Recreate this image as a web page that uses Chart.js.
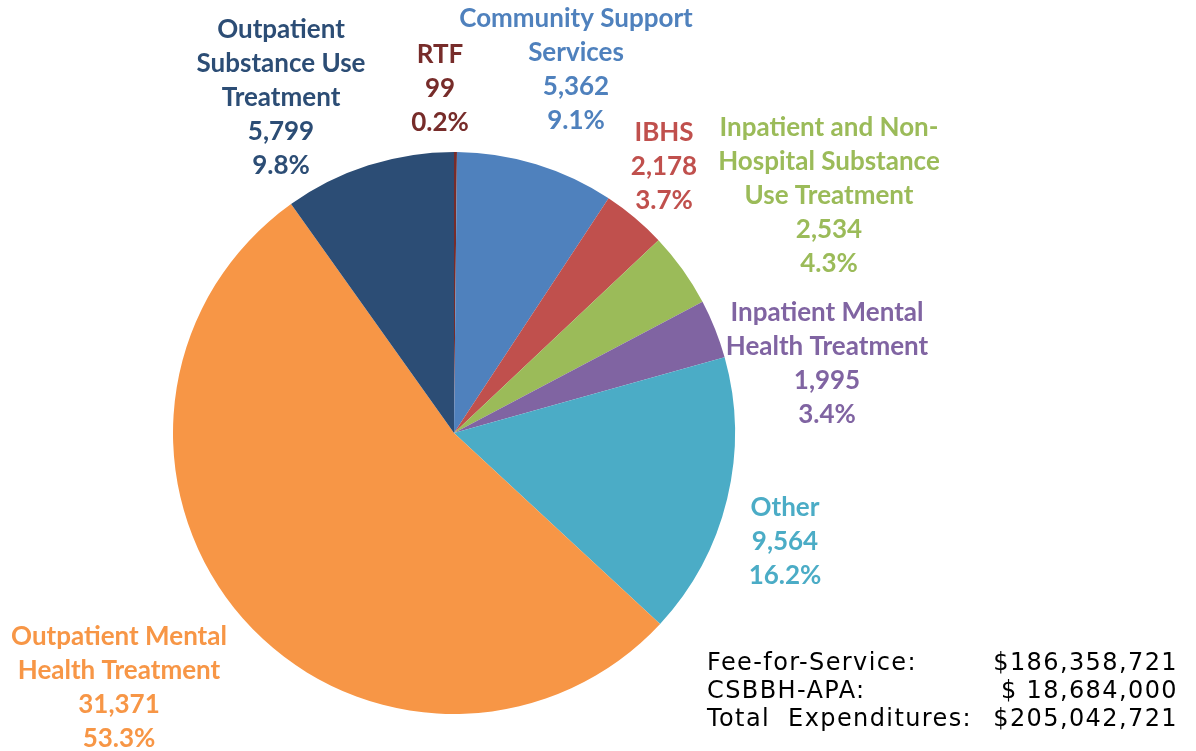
<!DOCTYPE html>
<html>
<head>
<meta charset="utf-8">
<script src="https://cdn.jsdelivr.net/npm/chart.js@4"></script>
<style>
html,body{margin:0;padding:0;background:#fff;}
#wrap{position:relative;width:1196px;height:751px;}
</style>
</head>
<body>
<div id="wrap"><canvas id="c" width="1196" height="751"></canvas></div>
<script>
// ---- data ----
const categories = ["RTF", "Community Support Services", "IBHS", "Inpatient and Non-Hospital Substance Use Treatment", "Inpatient Mental Health Treatment", "Other", "Outpatient Mental Health Treatment", "Outpatient Substance Use Treatment"];
const labelLines = [["RTF"], ["Community Support", "Services"], ["IBHS"], ["Inpatient and Non-", "Hospital Substance", "Use Treatment"], ["Inpatient Mental", "Health Treatment"], ["Other"], ["Outpatient Mental", "Health Treatment"], ["Outpatient", "Substance Use", "Treatment"]];
const values = [99, 5362, 2178, 2534, 1995, 9564, 31371, 5799];
const percents = ["0.2%", "9.1%", "3.7%", "4.3%", "3.4%", "16.2%", "53.3%", "9.8%"];
const expenseLabels = ["Fee-for-Service:", "CSBBH-APA:", "Total  Expenditures:"];
const expenseValues = ["$186,358,721", "$ 18,684,000", "$205,042,721"];

// ---- styles ----
const colors = ["#772C2A", "#4F81BD", "#C0504D", "#9BBB59", "#8064A2", "#4BACC6", "#F79646", "#2C4D75"];
// label block centers (x) and first-line centers (y)
const labelPos = [[440, 55], [576, 19], [664, 133], [829, 128], [827, 313], [785, 508], [119, 637], [281, 30]];
const lineH = 34;

const labelPlugin = {
  id: 'sliceLabels',
  afterDraw(chart) {
    const ctx = chart.ctx;
    ctx.save();
    ctx.textAlign = 'center';
    ctx.textBaseline = 'middle';
    ctx.font = 'bold 26px Lato, "Open Sans", sans-serif';
    const fmt = new Intl.NumberFormat('en-US');
    categories.forEach((c, i) => {
      const lines = labelLines[i].concat([fmt.format(values[i]), percents[i]]);
      ctx.fillStyle = colors[i];
      const [x, y] = labelPos[i];
      lines.forEach((t, k) => ctx.fillText(t, x, y + k * lineH));
    });
    // expenditure box
    ctx.fillStyle = '#000';
    ctx.font = '24px "DejaVu Sans", Verdana, sans-serif';
    ctx.letterSpacing = '1.4px';
    ctx.textBaseline = 'alphabetic';
    expenseLabels.forEach((t, k) => {
      ctx.textAlign = 'left';
      ctx.fillText(t, 707, 670 + k * 28);
      ctx.textAlign = 'right';
      ctx.fillText(expenseValues[k], 1178, 670 + k * 28);
    });
    ctx.restore();
  }
};

new Chart(document.getElementById('c'), {
  type: 'pie',
  data: {
    labels: categories,
    datasets: [{
      data: values,
      backgroundColor: colors,
      borderWidth: 0
    }]
  },
  options: {
    responsive: false,
    animation: false,
    layout: { padding: { left: 173, right: 461, top: 152, bottom: 37 } },
    plugins: { legend: { display: false }, tooltip: { enabled: false } }
  },
  plugins: [labelPlugin]
});
</script>
</body>
</html>
